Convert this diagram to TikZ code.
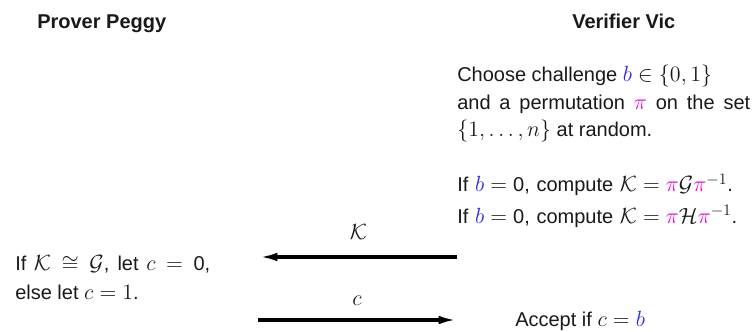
\RequirePackage{fix-cm}
\documentclass[tikz,border=0pt]{standalone}
\usepackage{amsmath}
\usepackage{amssymb}
\usepackage{fontspec}
\setmainfont{Liberation Sans}
\DeclareMathSizes{15}{16.5}{12}{9}
\usepackage{tikz}
\usetikzlibrary{arrows.meta, positioning}
\usepackage{xcolor}
\definecolor{chalblue}{RGB}{40,40,235}
\definecolor{permmag}{RGB}{235,0,235}
\newcommand{\chb}{{\color{chalblue}b}}
\newcommand{\prm}{{\color{permmag}\pi}}

\begin{document}
\begin{tikzpicture}[
  x=0.75pt, y=-0.75pt,
  every node/.style={font=\fontsize{15}{20.6}\selectfont, text=black!90, inner sep=0pt},
  party/.style={font=\fontsize{15}{18}\selectfont\bfseries, anchor=base west},
  stepbox/.style={anchor=base west, text width=#1, align=justify},
  msg/.style={-{Latex[length=13pt, width=6.5pt]}, line width=2.3pt, black}
]

  % column headers
  \node[party] (peggy) at (37, 29) {Prover Peggy};
  \node[party] (vic)   at (572, 29) {Verifier Vic};

  % verifier: challenge
  \node[stepbox=219.75pt] (choose) at (457, 82)
    {Choose challenge $\chb \in \{0, 1\}$\\
     and a permutation $\prm$ on the set\linebreak
     $\{1, \ldots, n\}$ at random.};

  % verifier: compute K
  \node[stepbox=219.75pt, align=left, font=\fontsize{15}{23.7}\selectfont] (comp) at (457, 192)
    {If $\chb = \mbox{0}$, compute $\mathcal{K} = \prm\mathcal{G}\prm^{-1}$.\\
     If $\chb = \mbox{0}$, compute $\mathcal{K} = \prm\mathcal{H}\prm^{-1}$.};

  % prover: answer
  \node[stepbox=146.25pt, font=\fontsize{15}{21.4}\selectfont] (ans) at (15, 271)
    {If $\mathcal{K} \cong \mathcal{G}$, let $c = \mbox{0}$,\linebreak
     else let $c = 1$.};

  % verifier: accept
  \node[anchor=base west] (acc) at (515, 327) {Accept if $c = \chb$};

  % message ends
  \coordinate (ksend) at (457, 257);
  \coordinate (krecv) at (260, 257);
  \coordinate (csend) at (258, 320);
  \coordinate (crecv) at (456, 320);

  \draw[msg] (ksend) -- node[midway, above=12pt] (klab) {$\mathcal{K}$} (krecv);
  \draw[msg] (csend) -- node[midway, above=10pt] (clab) {$c$} (crecv);

  \useasboundingbox (0, 0) rectangle (753, 331);

\end{tikzpicture}
\end{document}
